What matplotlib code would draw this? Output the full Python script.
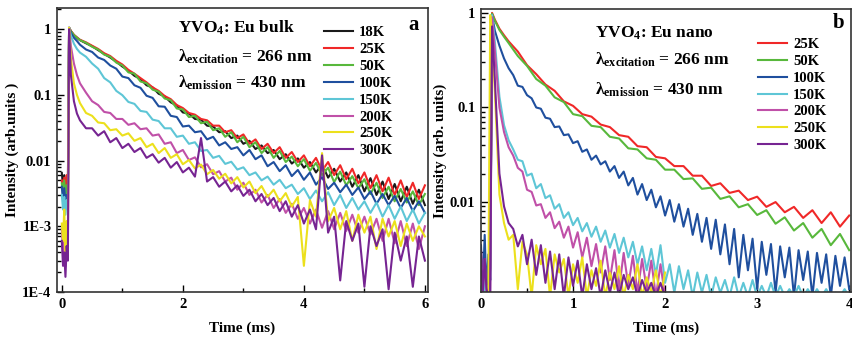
import numpy as np
import matplotlib.pyplot as plt
from matplotlib.ticker import NullFormatter, MultipleLocator, LogLocator

plt.rcParams['font.family'] = ['Liberation Serif', 'DejaVu Serif']
plt.rcParams['font.weight'] = 'bold'
plt.rcParams['axes.labelweight'] = 'bold'
plt.rcParams['mathtext.fontset'] = 'custom'
plt.rcParams['mathtext.rm'] = 'Liberation Serif:bold'
plt.rcParams['mathtext.it'] = 'Liberation Serif:bold'
plt.rcParams['mathtext.bf'] = 'Liberation Serif:bold'

# time grids (ms)
t_head = [0.0, 0.02, 0.04, 0.06, 0.08, 0.1, 0.12, 0.15, 0.2, 0.25, 0.3]
ta = t_head + list(np.round(np.arange(0.4, 6.001, 0.1), 2))
tb_slow = t_head + list(np.round(np.arange(0.4, 4.001, 0.1), 2))
tb_fast = t_head + list(np.round(np.arange(0.35, 4.001, 0.05), 2))
tb_short = t_head + list(np.round(np.arange(0.35, 2.001, 0.05), 2))

# ---- panel a : bulk ----
labels_a = ['18K', '25K', '50K', '100K', '150K', '200K', '250K', '300K']
colors_a = ['#1a1a1a', '#f02828', '#58b83c', '#1f4f9e', '#5ec6d6', '#c050a8', '#ece01c', '#762492']

a_18K = [.0065, .004, .006, .0035, .005, .004, 1.05, .93, .81, .74, .68,
         .61, .55, .48, .42, .37, .32, .27, .235, .195, .175, .14, .13, .104, .095, .077, .069,
         .054, .052, .043, .042, .034, .033, .027, .028, .022, .024, .018, .020, .015, .017,
         .013, .0145, .0105, .0125, .0090, .0108, .0078, .0095, .0066, .0088, .0055, .0075,
         .0048, .0066, .0040, .0060, .0034, .0054, .0030, .0048, .0026, .0044, .0024, .0040,
         .0022, .0036, .0021]
a_25K = [.005, .0035, .0055, .003, .006, .004, 1.05, .94, .82, .75, .69,
         .63, .56, .50, .43, .39, .33, .29, .24, .21, .18, .155, .13, .115, .096, .086, .07,
         .063, .053, .05, .043, .041, .034, .034, .027, .029, .022, .025, .018, .021, .015,
         .018, .013, .016, .011, .0135, .0095, .012, .0082, .011, .007, .0095, .006, .0085,
         .0052, .0075, .0045, .0066, .0038, .006, .0034, .0055, .003, .005, .0028, .0046,
         .0026, .0042]
a_50K = [.0045, .003, .005, .0028, .0042, .003, 1.05, .93, .81, .74, .68,
         .62, .54, .49, .41, .38, .31, .28, .22, .21, .16, .15, .12, .112, .088, .083, .062,
         .060, .046, .048, .037, .039, .029, .031, .023, .027, .019, .023, .016, .019, .013,
         .016, .011, .014, .0095, .0115, .0082, .0105, .0070, .0092, .0060, .0078, .0047,
         .0068, .0042, .0058, .0038, .0052, .0031, .0046, .0027, .0040, .0024, .0037, .0023,
         .0034, .0021, .0031]
a_100K = [.004, .0025, .0038, .0022, .003, .0025, 1.05, .88, .74, .66, .58,
          .49, .45, .37, .34, .28, .25, .19, .18, .14, .128, .097, .09, .067, .066, .048, .046,
          .033, .034, .027, .028, .021, .023, .017, .019, .015, .016, .012, .0145, .0105, .012,
          .0082, .0095, .0069, .0085, .0058, .0072, .0051, .0066, .0043, .0056, .0037, .0046,
          .0033, .0043, .003, .0039, .0026, .0034, .0022, .0031, .0021, .0029, .0019, .0027,
          .0017, .0024, .0016]
a_150K = [.003, .0018, .0028, .0015, .0025, .0018, 1.05, .80, .60, .50, .44,
          .38, .30, .25, .18, .155, .115, .099, .078, .073, .057, .055, .042, .04, .031, .031,
          .023, .024, .018, .019, .014, .0145, .011, .0118, .0089, .0096, .0073, .0079, .006,
          .0066, .005, .0057, .0043, .0051, .0038, .0043, .0031, .0038, .0026, .0035, .0024,
          .0033, .0021, .0030, .0019, .0027, .0018, .0024, .0016, .0023, .0014, .0021, .0013,
          .0020, .0012, .0018, .0011, .0016]
a_200K = [.0009, .0004, .0012, .00025, .0008, .0005, 1.05, .55, .30, .2, .15,
          .108, .08, .07, .055, .053, .043, .043, .035, .037, .03, .031, .024, .025, .018, .019,
          .013, .0145, .0102, .0112, .0079, .0088, .0062, .0069, .0048, .0055, .0036, .0046,
          .003, .0036, .0023, .003, .0019, .0026, .0016, .0022, .0013, .0019, .0011, .0018,
          .00095, .0017, .0009, .0016, .00085, .0015, .0008, .0014, .00075, .0013, .0006,
          .0013, .00055, .0012, .0005, .0011, .00045, .001]
a_250K = [.0011, .0006, .0018, .0003, .0012, .0007, 1.05, .35, .15, .10, .075,
          .053, .048, .038, .037, .029, .030, .024, .026, .02, .022, .016, .018, .013, .0155,
          .011, .0125, .0088, .0102, .0076, .0087, .0062, .0072, .0053, .0063, .0045, .0056,
          .0039, .0048, .0032, .0041, .0028, .0036, .0024, .0032, .002, .0028, .00025, .0025,
          .0014, .013, .0012, .0019, .0009, .0017, .0006, .0015, .0008, .0014, .00045, .0013,
          .0007, .0012, .0005, .0011, .0006, .001, .0007]
a_300K = [.0006, .00025, .0004, .00017, .0005, .0003, 1.0, .2, .08, .052, .041,
          .031, .031, .024, .028, .019, .022, .0155, .018, .0135, .0155, .011, .0125, .0093,
          .011, .0078, .0095, .0066, .0078, .0057, .022, .0048, .0056, .004, .0048, .0034,
          .0042, .0029, .0036, .0024, .0031, .0021, .0027, .0017, .0024, .0014, .0021, .0011,
          .0018, .0009, .012, .0008, .0014, .00015, .0012, .0006, .0011, .00012, .001, .0005,
          .0009, .00011, .0008, .0003, .0007, .00012, .0007, .0003]
series_a = [a_18K, a_25K, a_50K, a_100K, a_150K, a_200K, a_250K, a_300K]
times_a = [ta] * 8

# ---- panel b : nano ----
labels_b = ['25K', '50K', '100K', '150K', '200K', '250K', '300K']
colors_b = ['#f02828', '#58b83c', '#1f4f9e', '#5ec6d6', '#c050a8', '#ece01c', '#762492']

b_25K = [.0011, .0011, .0011, .0011, .0011, .002, 1.0, .85, .68, .58, .50,
         .39, .28, .225, .175, .15, .116, .104, .085, .08, .066, .062, .051, .049, .039, .038,
         .030, .029, .024, .024, .019, .019, .0148, .0158, .0125, .0132, .0105, .0114, .0089,
         .0100, .0078, .0089, .0068, .0082, .006, .0078, .0055, .0072]
b_50K = [.0011, .0011, .0011, .0011, .0011, .002, .98, .83, .66, .56, .48,
         .35, .275, .2, .17, .128, .114, .085, .081, .064, .062, .049, .047, .037, .036, .029,
         .028, .022, .022, .0175, .0178, .0138, .0142, .0108, .0115, .0088, .0095, .0073,
         .0082, .0059, .0069, .005, .006, .0042, .0052, .0035, .0046, .0031]
b_100K = [.0035, .0012, .0045, .0011, .0028, .0015, .95, .65, .45, .33, .26,
          .22, .17, .165, .135, .125, .10, .097, .078, .076, .062, .063, .051, .052, .042,
          .044, .034, .036, .028, .031, .025, .027, .021, .024, .018, .021, .015, .018, .012,
          .0155, .0105, .0135, .0088, .0115, .0072, .0105, .0062, .0095, .0055, .0085, .0045,
          .0075, .0038, .0068, .0032, .0065, .0028, .0058, .0022, .0052, .0016, .0045, .0019,
          .0041, .0012, .0038, .0017, .0036, .0011, .0034, .0016, .0033, .001, .0031, .0015,
          .003, .001, .0029, .0014, .0028, .001, .0027, .0013, .0026, .0012]
b_150K = [.0011, .002, .0011, .0013, .0011, .0015, .95, .5, .13, .065, .045,
          .036, .028, .027, .019, .02, .014, .0155, .011, .0118, .0085, .0095, .0068, .0078,
          .0057, .0068, .0049, .006, .0043, .0055, .0038, .005, .0033, .0046, .0029, .0042,
          .0026, .0038, .0022, .0034, .0019, .0032, .0017, .0035, .0014, .0022, .0011, .0021,
          .0012, .0019, .001, .0018, .0011, .0017, .001, .0016, .0011, .0015, .001, .0016,
          .001, .0014, .001, .0015, .001, .0013, .001, .0014, .001, .0013, .001, .0012, .001,
          .0013, .001, .0012, .001, .0012, .001, .0012, .001, .0011, .001, .0012, .001]
b_200K = [.003, .0011, .0025, .0011, .0012, .0011, .9, .4, .1, .055, .038,
          .031, .023, .021, .0135, .0128, .0092, .0095, .0068, .0078, .0053, .0062, .0042,
          .0055, .0033, .0048, .0026, .0042, .0021, .0036, .0018, .0034, .0015, .0031, .0012,
          .0029, .0013, .0027, .0011, .0025, .0012, .0024, .001, .0022, .001]
b_250K = [.0011, .0011, .0011, .0011, .0011, .95, .6, .15, .012, .006, .004,
          .0045, .0012, .0038, .0028, .001, .0035, .0022, .0032, .001, .0028, .0018, .0025,
          .001, .0022, .0014, .0026, .001, .0019, .0013, .0024, .001, .0018, .0012, .0021,
          .001, .0017, .0012, .0022, .001, .0016, .0011, .0019, .001, .0018]
b_300K = [.003, .0011, .0025, .0012, .001, .0011, .72, .2, .02, .009, .006,
          .0052, .0034, .0045, .0022, .004, .0017, .0035, .0014, .003, .0012, .0028, .001,
          .0026, .0013, .0024, .001, .0022, .0012, .002, .001, .0019, .0011, .0018, .001,
          .0017, .0012, .0016, .001, .0015, .0011, .0014, .001, .0014, .001]
series_b = [b_25K, b_50K, b_100K, b_150K, b_200K, b_250K, b_300K]
times_b = [tb_slow, tb_slow, tb_fast, tb_fast, tb_short, tb_short, tb_short]

fig = plt.figure(figsize=(8.53, 3.40), dpi=100)
axa = fig.add_axes([0.0668, 0.1412, 0.4349, 0.8353])
axb = fig.add_axes([0.5639, 0.1412, 0.4338, 0.8324])

for t, v, c, lab in zip(times_a, series_a, colors_a, labels_a):
    axa.semilogy(t, v, color=c, lw=1.5, label=lab)
for t, v, c, lab in zip(times_b, series_b, colors_b, labels_b):
    axb.semilogy(t, v, color=c, lw=1.5, label=lab)

axa.set_xlim(-0.08, 6.05)
axa.set_ylim(1e-4, 2.1)
axa.set_yticks([1, 0.1, 0.01, 1e-3, 1e-4], labels=['1', '0.1', '0.01', '1E-3', '1E-4'])
axa.set_xticks([0, 2, 4, 6])
axa.xaxis.set_minor_locator(MultipleLocator(1))
axa.set_ylabel('Intensity (arb.units )', fontsize=11, labelpad=2)

axb.set_xlim(0, 4.02)
axb.set_ylim(1.12e-3, 1.1)
axb.set_yticks([1, 0.1, 0.01], labels=['1', '0.1', '0.01'])
axb.set_xticks([0, 1, 2, 3, 4])
axb.xaxis.set_minor_locator(MultipleLocator(0.5))
axb.set_ylabel('Intensity (arb. units)', fontsize=11, labelpad=2)

for ax in (axa, axb):
    ax.yaxis.set_minor_locator(LogLocator(base=10, subs=np.arange(2, 10)))
    ax.yaxis.set_minor_formatter(NullFormatter())
    ax.tick_params(which='both', direction='in', top=False, right=False, labelsize=10.5, width=1)
    ax.tick_params(which='major', length=5, pad=4)
    ax.tick_params(which='minor', length=3)
    ax.set_xlabel('Time (ms)', fontsize=11, labelpad=8)
    for s in ax.spines.values():
        s.set_linewidth(1.2)
        s.set_color('#333333')

# panel a texts
axa.text(0.326, 0.912, r'YVO$_4$: Eu bulk', transform=axa.transAxes, fontsize=12.5)
axa.text(0.326, 0.81, r'$\lambda_{\mathrm{excitation}}$ = 266 nm', transform=axa.transAxes, fontsize=12.5)
axa.text(0.326, 0.718, r'$\lambda_{\mathrm{emission}}$ = 430 nm', transform=axa.transAxes, fontsize=12.5)
axa.text(0.962, 0.94, 'a', transform=axa.transAxes, fontsize=15, ha='center', va='center')
axa.legend(loc='upper left', bbox_to_anchor=(0.72, 0.936), frameon=False, fontsize=10.5,
           handlelength=2.0, handletextpad=0.4, labelspacing=0.25, borderpad=0, borderaxespad=0)

# panel b texts
axb.text(0.308, 0.90, r'YVO$_4$: Eu nano', transform=axb.transAxes, fontsize=12.5)
axb.text(0.308, 0.802, r'$\lambda_{\mathrm{excitation}}$ = 266 nm', transform=axb.transAxes, fontsize=12.5)
axb.text(0.308, 0.696, r'$\lambda_{\mathrm{emission}}$ = 430 nm', transform=axb.transAxes, fontsize=12.5)
axb.text(0.965, 0.95, 'b', transform=axb.transAxes, fontsize=15, ha='center', va='center')
axb.legend(loc='upper left', bbox_to_anchor=(0.749, 0.898), frameon=False, fontsize=10.5,
           handlelength=2.0, handletextpad=0.4, labelspacing=0.25, borderpad=0, borderaxespad=0)

fig.savefig('out.png', dpi=100)
